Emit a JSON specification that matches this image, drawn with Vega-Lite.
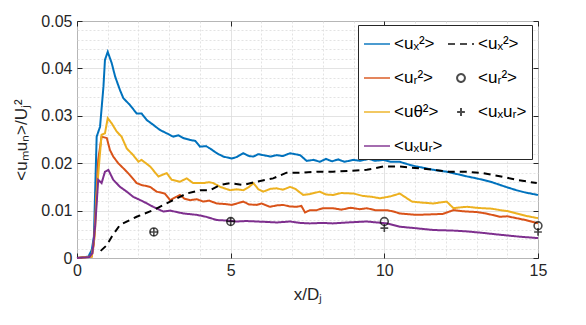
{
  "$schema": "https://vega.github.io/schema/vega-lite/v6.json",
  "width": 461,
  "height": 237,
  "autosize": {"type": "none"},
  "padding": {"left": 77, "top": 21, "right": 48, "bottom": 67},
  "background": "white",
  "config": {
    "font": "Liberation Sans",
    "view": {"stroke": "#262626", "strokeWidth": 1}
  },
  "datasets": {
    "lines": [
      {"s":"ux2","x":0,"y":0},{"s":"ux2","x":0.37,"y":0.0003},{"s":"ux2","x":0.48,"y":0.0017},{"s":"ux2","x":0.55,"y":0.0045},{"s":"ux2","x":0.64,"y":0.0256},{"s":"ux2","x":0.75,"y":0.0277},{"s":"ux2","x":0.86,"y":0.0361},{"s":"ux2","x":0.91,"y":0.0418},{"s":"ux2","x":1.0,"y":0.0435},{"s":"ux2","x":1.13,"y":0.0411},{"s":"ux2","x":1.24,"y":0.0383},{"s":"ux2","x":1.4,"y":0.0354},{"s":"ux2","x":1.51,"y":0.0337},{"s":"ux2","x":1.72,"y":0.0323},{"s":"ux2","x":1.94,"y":0.0305},{"s":"ux2","x":2.1,"y":0.0305},{"s":"ux2","x":2.27,"y":0.0291},{"s":"ux2","x":2.48,"y":0.0281},{"s":"ux2","x":2.7,"y":0.027},{"s":"ux2","x":2.92,"y":0.0263},{"s":"ux2","x":3.13,"y":0.0256},{"s":"ux2","x":3.3,"y":0.0259},{"s":"ux2","x":3.46,"y":0.0253},{"s":"ux2","x":3.68,"y":0.0249},{"s":"ux2","x":3.85,"y":0.0247},{"s":"ux2","x":4.0,"y":0.0235},{"s":"ux2","x":4.2,"y":0.0236},{"s":"ux2","x":4.33,"y":0.0231},{"s":"ux2","x":4.55,"y":0.0221},{"s":"ux2","x":4.76,"y":0.0214},{"s":"ux2","x":5.03,"y":0.021},{"s":"ux2","x":5.2,"y":0.0213},{"s":"ux2","x":5.41,"y":0.0221},{"s":"ux2","x":5.6,"y":0.0215},{"s":"ux2","x":5.74,"y":0.0214},{"s":"ux2","x":5.9,"y":0.0219},{"s":"ux2","x":6.06,"y":0.0217},{"s":"ux2","x":6.3,"y":0.0214},{"s":"ux2","x":6.5,"y":0.0217},{"s":"ux2","x":6.7,"y":0.0215},{"s":"ux2","x":6.93,"y":0.0221},{"s":"ux2","x":7.1,"y":0.0219},{"s":"ux2","x":7.26,"y":0.0217},{"s":"ux2","x":7.47,"y":0.0205},{"s":"ux2","x":7.7,"y":0.0207},{"s":"ux2","x":7.9,"y":0.0203},{"s":"ux2","x":8.1,"y":0.0209},{"s":"ux2","x":8.3,"y":0.0204},{"s":"ux2","x":8.5,"y":0.0208},{"s":"ux2","x":8.7,"y":0.0203},{"s":"ux2","x":9.0,"y":0.0207},{"s":"ux2","x":9.2,"y":0.0205},{"s":"ux2","x":9.5,"y":0.0209},{"s":"ux2","x":9.7,"y":0.0205},{"s":"ux2","x":9.97,"y":0.0207},{"s":"ux2","x":10.2,"y":0.0203},{"s":"ux2","x":10.5,"y":0.0203},{"s":"ux2","x":10.8,"y":0.0197},{"s":"ux2","x":11.05,"y":0.0193},{"s":"ux2","x":11.3,"y":0.019},{"s":"ux2","x":11.6,"y":0.0186},{"s":"ux2","x":12.03,"y":0.0182},{"s":"ux2","x":12.3,"y":0.0178},{"s":"ux2","x":12.7,"y":0.0172},{"s":"ux2","x":13.0,"y":0.0168},{"s":"ux2","x":13.2,"y":0.0165},{"s":"ux2","x":13.5,"y":0.016},{"s":"ux2","x":13.77,"y":0.0154},{"s":"ux2","x":14.0,"y":0.0149},{"s":"ux2","x":14.3,"y":0.0143},{"s":"ux2","x":14.6,"y":0.0138},{"s":"ux2","x":15,"y":0.0133},

      {"s":"ur2","x":0,"y":0},{"s":"ur2","x":0.48,"y":0.0003},{"s":"ur2","x":0.55,"y":0.003},{"s":"ur2","x":0.59,"y":0.008},{"s":"ur2","x":0.69,"y":0.0207},{"s":"ur2","x":0.8,"y":0.0256},{"s":"ur2","x":0.97,"y":0.0253},{"s":"ur2","x":1.07,"y":0.0228},{"s":"ur2","x":1.18,"y":0.0214},{"s":"ur2","x":1.34,"y":0.02},{"s":"ur2","x":1.56,"y":0.0186},{"s":"ur2","x":1.72,"y":0.0175},{"s":"ur2","x":1.94,"y":0.0158},{"s":"ur2","x":2.1,"y":0.0154},{"s":"ur2","x":2.38,"y":0.015},{"s":"ur2","x":2.59,"y":0.014},{"s":"ur2","x":2.86,"y":0.0136},{"s":"ur2","x":3.03,"y":0.0122},{"s":"ur2","x":3.2,"y":0.0128},{"s":"ur2","x":3.35,"y":0.0133},{"s":"ur2","x":3.5,"y":0.0125},{"s":"ur2","x":3.68,"y":0.0122},{"s":"ur2","x":3.9,"y":0.0124},{"s":"ur2","x":4.11,"y":0.0119},{"s":"ur2","x":4.3,"y":0.0121},{"s":"ur2","x":4.55,"y":0.0115},{"s":"ur2","x":4.8,"y":0.0114},{"s":"ur2","x":5.03,"y":0.0112},{"s":"ur2","x":5.2,"y":0.0115},{"s":"ur2","x":5.41,"y":0.0119},{"s":"ur2","x":5.6,"y":0.0113},{"s":"ur2","x":5.85,"y":0.0112},{"s":"ur2","x":6.0,"y":0.0115},{"s":"ur2","x":6.28,"y":0.0108},{"s":"ur2","x":6.5,"y":0.0111},{"s":"ur2","x":6.71,"y":0.0112},{"s":"ur2","x":6.9,"y":0.0109},{"s":"ur2","x":7.15,"y":0.0108},{"s":"ur2","x":7.3,"y":0.011},{"s":"ur2","x":7.42,"y":0.0096},{"s":"ur2","x":7.58,"y":0.0101},{"s":"ur2","x":7.8,"y":0.0101},{"s":"ur2","x":8.0,"y":0.0105},{"s":"ur2","x":8.33,"y":0.0105},{"s":"ur2","x":8.6,"y":0.0102},{"s":"ur2","x":8.9,"y":0.0106},{"s":"ur2","x":9.2,"y":0.0103},{"s":"ur2","x":9.43,"y":0.0105},{"s":"ur2","x":9.7,"y":0.0101},{"s":"ur2","x":10.08,"y":0.0101},{"s":"ur2","x":10.3,"y":0.0098},{"s":"ur2","x":10.5,"y":0.0094},{"s":"ur2","x":11.05,"y":0.0091},{"s":"ur2","x":11.5,"y":0.0092},{"s":"ur2","x":11.9,"y":0.0093},{"s":"ur2","x":12.25,"y":0.0101},{"s":"ur2","x":12.5,"y":0.0099},{"s":"ur2","x":12.7,"y":0.0098},{"s":"ur2","x":13.0,"y":0.0097},{"s":"ur2","x":13.3,"y":0.0094},{"s":"ur2","x":13.5,"y":0.0091},{"s":"ur2","x":13.77,"y":0.0087},{"s":"ur2","x":14.0,"y":0.0088},{"s":"ur2","x":14.3,"y":0.0084},{"s":"ur2","x":14.6,"y":0.008},{"s":"ur2","x":15,"y":0.0073},

      {"s":"ut2","x":0,"y":0},{"s":"ut2","x":0.48,"y":0.0003},{"s":"ut2","x":0.58,"y":0.005},{"s":"ut2","x":0.64,"y":0.0136},{"s":"ut2","x":0.73,"y":0.0207},{"s":"ut2","x":0.8,"y":0.026},{"s":"ut2","x":0.91,"y":0.0263},{"s":"ut2","x":1.0,"y":0.0295},{"s":"ut2","x":1.13,"y":0.0284},{"s":"ut2","x":1.29,"y":0.0267},{"s":"ut2","x":1.45,"y":0.0256},{"s":"ut2","x":1.62,"y":0.0231},{"s":"ut2","x":1.83,"y":0.0217},{"s":"ut2","x":2.0,"y":0.0203},{"s":"ut2","x":2.1,"y":0.0207},{"s":"ut2","x":2.38,"y":0.0193},{"s":"ut2","x":2.65,"y":0.0172},{"s":"ut2","x":2.8,"y":0.0176},{"s":"ut2","x":2.92,"y":0.0179},{"s":"ut2","x":3.08,"y":0.0165},{"s":"ut2","x":3.35,"y":0.0161},{"s":"ut2","x":3.57,"y":0.0168},{"s":"ut2","x":3.78,"y":0.0158},{"s":"ut2","x":4.11,"y":0.0158},{"s":"ut2","x":4.3,"y":0.016},{"s":"ut2","x":4.44,"y":0.0158},{"s":"ut2","x":4.66,"y":0.015},{"s":"ut2","x":4.98,"y":0.0143},{"s":"ut2","x":5.2,"y":0.0145},{"s":"ut2","x":5.41,"y":0.0143},{"s":"ut2","x":5.6,"y":0.015},{"s":"ut2","x":5.74,"y":0.0158},{"s":"ut2","x":5.9,"y":0.0145},{"s":"ut2","x":6.06,"y":0.014},{"s":"ut2","x":6.3,"y":0.0146},{"s":"ut2","x":6.5,"y":0.0147},{"s":"ut2","x":6.7,"y":0.0144},{"s":"ut2","x":6.93,"y":0.015},{"s":"ut2","x":7.1,"y":0.0146},{"s":"ut2","x":7.36,"y":0.0133},{"s":"ut2","x":7.58,"y":0.0135},{"s":"ut2","x":7.9,"y":0.014},{"s":"ut2","x":8.1,"y":0.0134},{"s":"ut2","x":8.33,"y":0.0133},{"s":"ut2","x":8.6,"y":0.0137},{"s":"ut2","x":9.0,"y":0.0136},{"s":"ut2","x":9.3,"y":0.0131},{"s":"ut2","x":9.6,"y":0.0129},{"s":"ut2","x":9.86,"y":0.0126},{"s":"ut2","x":10.2,"y":0.013},{"s":"ut2","x":10.5,"y":0.0136},{"s":"ut2","x":10.9,"y":0.0119},{"s":"ut2","x":11.2,"y":0.0117},{"s":"ut2","x":11.6,"y":0.0115},{"s":"ut2","x":11.8,"y":0.0117},{"s":"ut2","x":12.03,"y":0.0119},{"s":"ut2","x":12.25,"y":0.0105},{"s":"ut2","x":12.5,"y":0.0107},{"s":"ut2","x":12.7,"y":0.0108},{"s":"ut2","x":13.0,"y":0.0106},{"s":"ut2","x":13.2,"y":0.0105},{"s":"ut2","x":13.5,"y":0.0104},{"s":"ut2","x":13.77,"y":0.0101},{"s":"ut2","x":14.0,"y":0.0099},{"s":"ut2","x":14.3,"y":0.0094},{"s":"ut2","x":14.6,"y":0.0089},{"s":"ut2","x":15,"y":0.0084},

      {"s":"uxur","x":0,"y":0},{"s":"uxur","x":0.4,"y":0.0002},{"s":"uxur","x":0.5,"y":0.001},{"s":"uxur","x":0.59,"y":0.0066},{"s":"uxur","x":0.69,"y":0.0165},{"s":"uxur","x":0.8,"y":0.0158},{"s":"uxur","x":0.91,"y":0.0182},{"s":"uxur","x":1.02,"y":0.0186},{"s":"uxur","x":1.18,"y":0.0165},{"s":"uxur","x":1.4,"y":0.015},{"s":"uxur","x":1.62,"y":0.014},{"s":"uxur","x":1.83,"y":0.0129},{"s":"uxur","x":2.16,"y":0.0119},{"s":"uxur","x":2.48,"y":0.0108},{"s":"uxur","x":2.81,"y":0.0098},{"s":"uxur","x":3.03,"y":0.01},{"s":"uxur","x":3.46,"y":0.0094},{"s":"uxur","x":3.9,"y":0.0091},{"s":"uxur","x":4.2,"y":0.0087},{"s":"uxur","x":4.55,"y":0.008},{"s":"uxur","x":4.9,"y":0.0079},{"s":"uxur","x":5.2,"y":0.0077},{"s":"uxur","x":5.5,"y":0.0078},{"s":"uxur","x":5.85,"y":0.0077},{"s":"uxur","x":6.2,"y":0.0076},{"s":"uxur","x":6.5,"y":0.0075},{"s":"uxur","x":6.93,"y":0.0077},{"s":"uxur","x":7.26,"y":0.0074},{"s":"uxur","x":7.58,"y":0.0073},{"s":"uxur","x":8.0,"y":0.0074},{"s":"uxur","x":8.33,"y":0.0073},{"s":"uxur","x":8.8,"y":0.0075},{"s":"uxur","x":9.43,"y":0.0077},{"s":"uxur","x":10.08,"y":0.0073},{"s":"uxur","x":10.5,"y":0.0066},{"s":"uxur","x":11.0,"y":0.0063},{"s":"uxur","x":11.6,"y":0.0059},{"s":"uxur","x":12.2,"y":0.0058},{"s":"uxur","x":12.7,"y":0.0056},{"s":"uxur","x":13.2,"y":0.0053},{"s":"uxur","x":13.77,"y":0.0049},{"s":"uxur","x":14.4,"y":0.0045},{"s":"uxur","x":15,"y":0.0042},

      {"s":"ux2e","x":0.77,"y":0.0015},{"s":"ux2e","x":0.97,"y":0.0027},{"s":"ux2e","x":1.13,"y":0.0045},{"s":"ux2e","x":1.4,"y":0.007},{"s":"ux2e","x":1.94,"y":0.0087},{"s":"ux2e","x":2.48,"y":0.0101},{"s":"ux2e","x":3.03,"y":0.0119},{"s":"ux2e","x":3.57,"y":0.0136},{"s":"ux2e","x":4.0,"y":0.0143},{"s":"ux2e","x":4.33,"y":0.0143},{"s":"ux2e","x":4.66,"y":0.0154},{"s":"ux2e","x":4.98,"y":0.0158},{"s":"ux2e","x":5.4,"y":0.0154},{"s":"ux2e","x":5.85,"y":0.0161},{"s":"ux2e","x":6.38,"y":0.0168},{"s":"ux2e","x":6.82,"y":0.018},{"s":"ux2e","x":7.26,"y":0.018},{"s":"ux2e","x":7.8,"y":0.0182},{"s":"ux2e","x":8.33,"y":0.0182},{"s":"ux2e","x":8.9,"y":0.0184},{"s":"ux2e","x":9.43,"y":0.0186},{"s":"ux2e","x":9.96,"y":0.0193},{"s":"ux2e","x":10.5,"y":0.0193},{"s":"ux2e","x":11.0,"y":0.019},{"s":"ux2e","x":11.6,"y":0.0186},{"s":"ux2e","x":12.1,"y":0.0182},{"s":"ux2e","x":12.7,"y":0.0182},{"s":"ux2e","x":13.2,"y":0.0179},{"s":"ux2e","x":13.8,"y":0.0172},{"s":"ux2e","x":14.3,"y":0.0165},{"s":"ux2e","x":14.96,"y":0.0158}
    ],
    "points": [
      {"s":"ur2e","x":2.5,"y":0.0055},{"s":"ur2e","x":5,"y":0.0077},{"s":"ur2e","x":10,"y":0.0077},{"s":"ur2e","x":15,"y":0.0068},
      {"s":"uxure","x":2.5,"y":0.0055},{"s":"uxure","x":5,"y":0.0077},{"s":"uxure","x":10,"y":0.0063},{"s":"uxure","x":15,"y":0.0055}
    ]
  },
  "layer": [
    {
      "data": {"name": "lines"},
      "mark": {"type": "line", "strokeWidth": 2, "interpolate": "linear"},
      "encoding": {
        "x": {
          "field": "x", "type": "quantitative",
          "scale": {"domain": [0, 15], "nice": false, "zero": false},
          "axis": {
            "orient": "bottom",
            "values": [0,1,2,3,4,5,6,7,8,9,10,11,12,13,14,15],
            "labelExpr": "datum.value % 5 === 0 ? datum.label : ''",
            "domain": false,
            "grid": true,
            "gridColor": "#dcdcdc",
            "gridDash": {"condition": {"test": "datum.value % 5 === 0", "value": []}, "value": [2, 2]},
            "gridWidth": 0.8,
            "tickOpacity": {"condition": {"test": "datum.value % 5 === 0", "value": 1}, "value": 0},
            "tickColor": "#262626",
            "tickSize": -5,
            "labelPadding": 9,
            "labelFontSize": 16,
            "labelColor": "#262626",
            "labelFlush": false,
            "title": "x/Dⱼ",
            "titleFontSize": 17,
            "titleFontWeight": "normal",
            "titleColor": "#262626",
            "titlePadding": 8
          }
        },
        "y": {
          "field": "y", "type": "quantitative",
          "scale": {"domain": [0, 0.05], "nice": false, "zero": false},
          "axis": {
            "orient": "left",
            "values": [0,0.002,0.004,0.006,0.008,0.01,0.012,0.014,0.016,0.018,0.02,0.022,0.024,0.026,0.028,0.03,0.032,0.034,0.036,0.038,0.04,0.042,0.044,0.046,0.048,0.05],
            "labelExpr": "abs(datum.value*100 - round(datum.value*100)) < 1e-6 ? format(datum.value, '~g') : ''",
            "domain": false,
            "grid": true,
            "gridColor": "#dcdcdc",
            "gridDash": {"condition": {"test": "abs(datum.value*100 - round(datum.value*100)) < 1e-6", "value": []}, "value": [2, 2]},
            "gridWidth": 0.8,
            "tickOpacity": {"condition": {"test": "abs(datum.value*100 - round(datum.value*100)) < 1e-6", "value": 1}, "value": 0},
            "tickColor": "#262626",
            "tickSize": -5,
            "labelPadding": 10,
            "labelFontSize": 16,
            "labelColor": "#262626",
            "labelFlush": false,
            "title": "<uₘuₙ>/Uⱼ²",
            "titleFontSize": 17,
            "titleFontWeight": "normal",
            "titleColor": "#262626",
            "titlePadding": 10
          }
        },
        "color": {
          "field": "s", "type": "nominal",
          "scale": {
            "domain": ["ux2","ux2e","ur2","ur2e","ut2","uxure","uxur"],
            "range": ["#0072BD","#000000","#D95319","#000000","#EDB120","#000000","#7E2F8E"]
          },
          "legend": {
            "orient": "none",
            "legendX": 281,
            "legendY": 4,
            "columns": 2,
            "direction": "horizontal",
            "title": null,
            "labelExpr": "{'ux2':'<uₓ²>','ux2e':'<uₓ²>','ur2':'<uᵣ²>','ur2e':'<uᵣ²>','ut2':'<uθ²>','uxure':'<uₓuᵣ>','uxur':'<uₓuᵣ>'}[datum.value]",
            "labelFontSize": 17,
            "labelColor": "#000000",
            "symbolSize": 676,
            "symbolStrokeWidth": 2,
            "symbolFillColor": "transparent",
            "labelOffset": 3,
            "rowPadding": 12,
            "columnPadding": 1,
            "padding": 5,
            "fillColor": "white",
            "strokeColor": "#262626",
            "cornerRadius": 0
          }
        },
        "strokeDash": {
          "field": "s", "type": "nominal",
          "scale": {
            "domain": ["ux2","ux2e","ur2","ur2e","ut2","uxure","uxur"],
            "range": [[1,0],[7,5],[1,0],[1,0],[1,0],[1,0],[1,0]]
          },
          "legend": null
        }
      }
    },
    {
      "data": {"name": "points"},
      "mark": {"type": "point", "filled": false, "strokeWidth": 1.6, "size": 676},
      "encoding": {
        "x": {
          "field": "x", "type": "quantitative",
          "axis": {"orient": "top", "values": [0,5,10,15], "labels": false, "domain": false, "grid": false, "tickSize": -5, "tickColor": "#262626", "title": null}
        },
        "y": {
          "field": "y", "type": "quantitative",
          "axis": {"orient": "right", "values": [0,0.01,0.02,0.03,0.04,0.05], "labels": false, "domain": false, "grid": false, "tickSize": -5, "tickColor": "#262626", "title": null}
        },
        "color": {"field": "s", "type": "nominal"},
        "shape": {
          "field": "s", "type": "nominal",
          "scale": {
            "domain": ["ux2","ux2e","ur2","ur2e","ut2","uxure","uxur"],
            "range": ["M-1,0H1","M-1,0H1","M-1,0H1","M0.3,0A0.3,0.3 0 1,1 -0.3,0A0.3,0.3 0 1,1 0.3,0Z","M-1,0H1","M-0.3,0H0.3M0,-0.3V0.3","M-1,0H1"]
          }
        }
      }
    }
  ],
  "resolve": {"axis": {"x": "independent", "y": "independent"}}
}
